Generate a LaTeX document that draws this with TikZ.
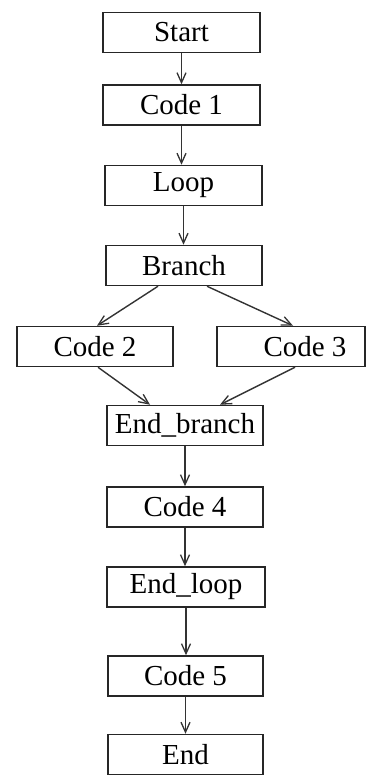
\documentclass[tikz,border=0pt]{standalone}
\usepackage{fontspec}
\setmainfont{Liberation Serif}
\usetikzlibrary{arrows.meta}
\begin{document}
\begin{tikzpicture}[x=1pt,y=-1pt,
  stepbox/.style={draw=black!85, line width=1.5pt, minimum height=40pt,
    inner sep=0pt, font=\fontsize{29}{31}\selectfont},
  flow/.style={draw=black!80, line width=1.4pt,
    -{Straight Barb[length=10pt,width=9pt,line width=1.3pt]}}
]
\useasboundingbox (0,0) rectangle (368,775);

\node[stepbox, minimum width=157pt] (start) at (181.5,32.5) {Start};
\node[stepbox, minimum width=157pt] (c1)    at (181.5,105)  {Code 1};
\node[stepbox, minimum width=157pt] (loop)  at (183.5,185.5) {Loop};
\node[stepbox, minimum width=156pt] (br)    at (184,265.5)  {Branch};
\node[stepbox, minimum width=156pt] (c2)    at (95,346.5)   {Code 2};
\node[stepbox, minimum width=148pt] (c3)    at (291,346.5)  {\hspace*{28pt}Code 3};
\node[stepbox, minimum width=156pt] (eb)    at (185,425.5)  {End\_branch};
\node[stepbox, minimum width=156pt] (c4)    at (185,507)    {Code 4};
\node[stepbox, minimum width=158pt] (el)    at (186,587)    {End\_loop};
\node[stepbox, minimum width=155pt] (c5)    at (185.5,676)  {Code 5};
\node[stepbox, minimum width=155pt] (e)     at (185.5,754.5) {End};

\draw[flow] (start.south) -- (start.south |- c1.north);
\draw[flow] (c1.south) -- (c1.south |- loop.north);
\draw[flow] (loop.south) -- (loop.south |- br.north);
\draw[flow] ([xshift=-26pt]br.south) -- ([xshift=2pt]c2.north);
\draw[flow] ([xshift=23pt]br.south) -- ([xshift=2pt]c3.north);
\draw[flow] ([xshift=3pt]c2.south) -- ([xshift=-35pt]eb.north);
\draw[flow] ([xshift=4pt]c3.south) -- ([xshift=35pt]eb.north);
\draw[flow] (eb.south) -- (eb.south |- c4.north);
\draw[flow] (c4.south) -- (c4.south |- el.north);
\draw[flow] (el.south) -- (el.south |- c5.north);
\draw[flow] (c5.south) -- (c5.south |- e.north);
\end{tikzpicture}
\end{document}
